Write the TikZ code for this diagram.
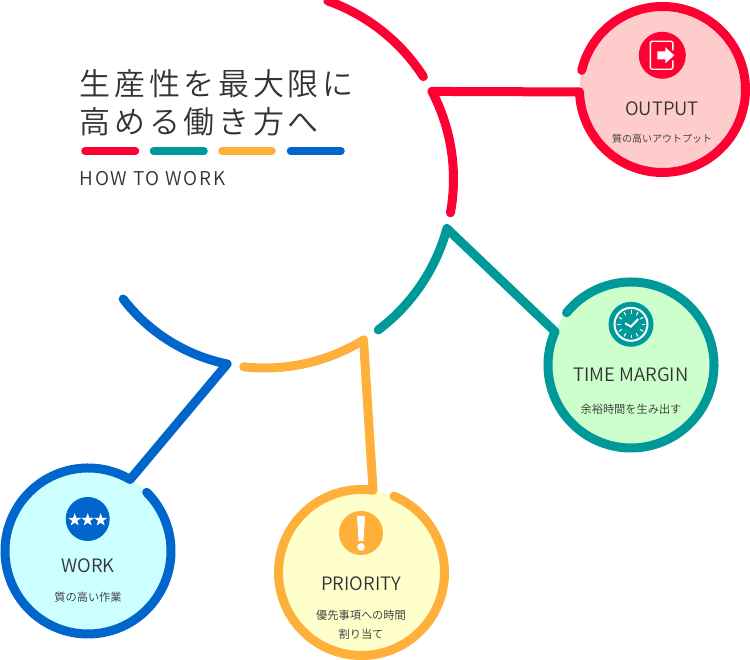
\documentclass[tikz,border=0pt]{standalone}
\usepackage{fontspec}
\setmainfont{Noto Sans CJK JP}[UprightFont=* DemiLight]
\usetikzlibrary{shapes.geometric,calc}
\definecolor{cred}{HTML}{FF0033}
\definecolor{cteal}{HTML}{009999}
\definecolor{corange}{HTML}{FFB03B}
\definecolor{cblue}{HTML}{0066CC}
\definecolor{ink}{HTML}{333333}
\definecolor{fred}{HTML}{FFCCCC}
\definecolor{fteal}{HTML}{CCFFCC}
\definecolor{fblue}{HTML}{CCFFFF}
\definecolor{forange}{HTML}{FFFFCC}
\tikzset{
  band/.style={line width=9pt,line cap=round,line join=round},
  bar/.style={line width=7.5pt,line cap=round},
  disc/.style={circle,minimum size=166pt,inner sep=0pt,draw=none},
  badge/.style={circle,inner sep=0pt,draw=none},
  head/.style={text=ink,font=\fontsize{18.5}{20}\selectfont,inner sep=0pt},
  sub/.style={text=ink,font=\fontsize{11.2}{19}\selectfont,inner sep=0pt,align=center},
  titleline/.style={text=ink,anchor=west,inner sep=0pt,font=\fontsize{31}{32}\selectfont\addfontfeatures{LetterSpace=12}},
  iconline/.style={white,line width=1.4pt},
  starmark/.style={star,star points=5,star point ratio=2.5,fill=white,inner sep=0pt,minimum size=13.6pt},
}
\begin{document}
\begin{tikzpicture}[x=1pt,y=1pt]
\useasboundingbox (0,0) rectangle (750,660);
\coordinate (big) at (264.5,481);
\coordinate (bigb) at (262,467.5);
% discs
\node[disc,fill=fred] (outD) at (662.5,570.5) {};
\node[disc,fill=fteal] (timeD) at (631,295) {};
\node[disc,fill=fblue] (workD) at (88,109) {};
\node[disc,fill=forange] (prioD) at (361.5,87.5) {};
% big arcs and connectors
\draw[band,cred] ([shift={(70.45:189)}]big) arc[start angle=70.45,end angle=32.8,radius=189];
\coordinate (jr2) at ([shift={(181.7:83)}]outD.center);
\draw[band,cred] ([shift={(-10.3:189)}]big) arc[start angle=-10.3,end angle=27.6,radius=189] -- (jr2)
  arc[start angle=181.7,end angle=526.7,radius=83];
\coordinate (jt2) at ([shift={(156.3:83)}]timeD.center);
\draw[band,cteal] ([shift={(-53:189)}]big) arc[start angle=-53,end angle=-15.2,radius=189] -- (jt2)
  arc[start angle=156.3,end angle=501,radius=83];
\coordinate (jo2) at ([shift={(82:83)}]prioD.center);
\draw[band,corange] ([shift={(-96.3:189)}]big) arc[start angle=-96.3,end angle=-58.4,radius=189] -- (jo2)
  arc[start angle=82,end angle=427,radius=83];
\coordinate (jb2) at ([shift={(59.5:83)}]workD.center);
\draw[band,cblue] ([shift={(-142.5:175)}]bigb) arc[start angle=-142.5,end angle=-101.5,radius=175] -- (jb2)
  arc[start angle=59.5,end angle=405,radius=83];
% title
\node[titleline] (t1) at (79.5,576) {生産性を最大限に};
\node[titleline] (t2) at (79.5,538) {高める働き方へ};
\coordinate (b1a) at (85,509);\coordinate (b1b) at (135.5,509);
\coordinate (b2a) at (153.5,509);\coordinate (b2b) at (204,509);
\coordinate (b3a) at (222,509);\coordinate (b3b) at (272,509);
\coordinate (b4a) at (290.5,509);\coordinate (b4b) at (341,509);
\draw[bar,cred] (b1a)--(b1b);
\draw[bar,cteal] (b2a)--(b2b);
\draw[bar,corange] (b3a)--(b3b);
\draw[bar,cblue] (b4a)--(b4b);
\node[text=ink,anchor=west,inner sep=0pt,font=\fontsize{19}{20}\selectfont\addfontfeatures{LetterSpace=9}] (hw) at (79.5,481) {HOW TO WORK};
% badges
\node[badge,fill=cred,minimum size=47pt] (outI) at (662.3,604.7) {};
\node[badge,fill=cteal,minimum size=45pt] (timeI) at (631,335.7) {};
\node[badge,fill=cblue,minimum size=44pt] (workI) at (87.7,141) {};
\node[badge,fill=corange,minimum size=44pt] (prioI) at (361,127) {};
% output icon
\begin{scope}[shift={(outI.center)}]
\draw[iconline,rounded corners=1.5pt] (10.5,-5) -- (10.5,-14) -- (-12,-14) -- (-12,14) -- (10.5,14) -- (10.5,5);
\fill[white] (-5,-4) -- (3,-4) -- (3,-8) -- (12,0) -- (3,8) -- (3,4) -- (-5,4) -- cycle;
\end{scope}
% clock icon
\begin{scope}[shift={(timeI.center)}]
\draw[white,line width=2pt] (0,0) circle[radius=16.5];
\foreach \a in {0,30,...,330}{\draw[white,line width=1pt] (\a:10.5) -- (\a:14);}
\draw[white,line width=2pt,line join=miter] (-6,1) -- (0,-2.3) -- (7.3,5.3);
\end{scope}
% stars
\node[starmark] (s1) at ($(workI.center)+(-13,-1)$) {};
\node[starmark] (s2) at ($(workI.center)+(0,-1)$) {};
\node[starmark] (s3) at ($(workI.center)+(13,-1)$) {};
% exclamation
\begin{scope}[shift={(prioI.center)}]
\fill[white,rounded corners=.7pt] (-4,17) -- (4,17) -- (2.5,-8) -- (-2.5,-8) -- cycle;
\fill[white] (0,-14) circle[radius=3.8];
\end{scope}
% labels
\node[head] (outH) at (662,551) {OUTPUT};
\node[sub,font=\fontsize{10}{19}\selectfont] (outS) at (662,521.5) {質の高いアウトプット};
\node[head] (timeH) at (631,285) {TIME MARGIN};
\node[sub] (timeS) at (631,250.5) {余裕時間を生み出す};
\node[head] (workH) at (88,94) {WORK};
\node[sub] (workS) at (88,62.5) {質の高い作業};
\node[head] (prioH) at (361,76) {PRIORITY};
\node[sub] (prioS) at (361,35.5) {優先事項への時間\\割り当て};
\end{tikzpicture}
\end{document}
